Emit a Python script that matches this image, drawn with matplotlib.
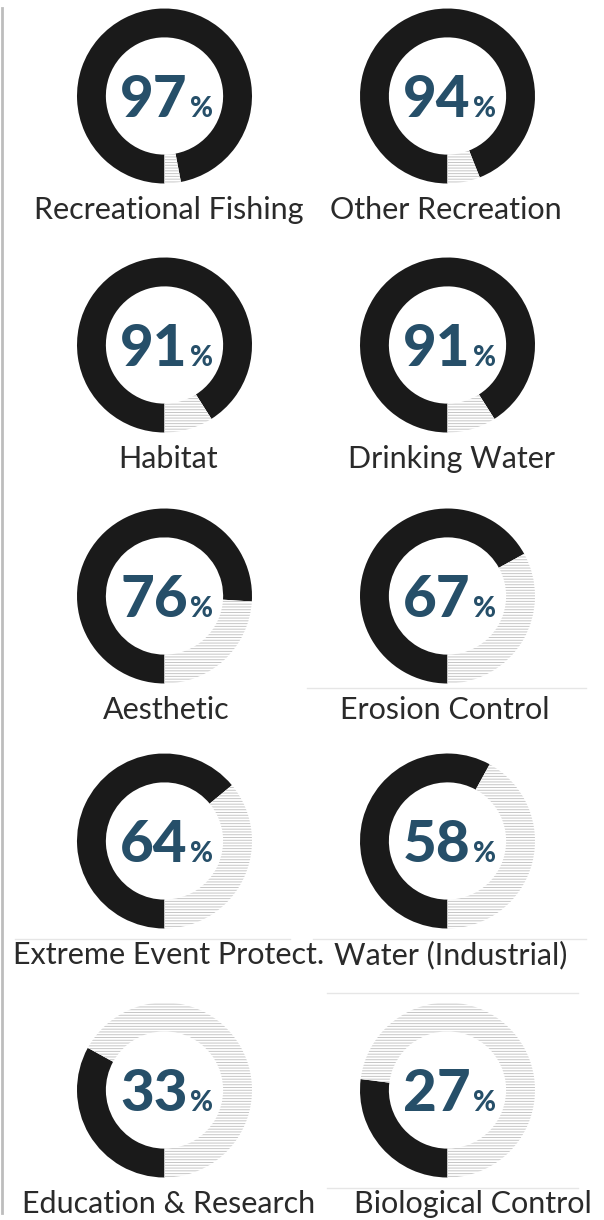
import matplotlib.pyplot as plt
import numpy as np

labels = ['Recreational Fishing', 'Other Recreation', 'Habitat', 'Drinking Water',
          'Aesthetic', 'Erosion Control', 'Extreme Event Protect.', 'Water (Industrial)',
          'Education & Research', 'Biological Control']
values = [97, 94, 91, 91, 76, 67, 64, 58, 33, 27]

plt.rcParams['hatch.linewidth'] = 0.7
plt.rcParams['hatch.color'] = '#c6c6c6'

W, H = 604, 1220
fig = plt.figure(figsize=(W / 100, H / 100), dpi=100)

col_x = [164.5, 447.5]
row_y = [96, 345, 596, 841, 1090]
R = 87.5
lab_dx = [4, -2, 4, 4, 2, -3, 4, 3, 4, 25]

base = fig.add_axes([0, 0, 1, 1])
base.set_xlim(0, W)
base.set_ylim(H, 0)
base.axis('off')

# left rule + faint separators
base.plot([1.5, 1.5], [8, 1213], color='#bdbdbd', lw=2)
for x0, x1, y in [(307, 586, 688), (15, 290, 939), (313, 586, 939), (327, 578, 993), (327, 578, 1188)]:
    base.plot([x0, x1], [y, y], color='#e6e6e6', lw=1)

rend = fig.canvas.get_renderer()
for i, (lab, v) in enumerate(zip(labels, values)):
    cx = col_x[i % 2]
    cy = row_y[i // 2]
    ax = fig.add_axes([(cx - R) / W, 1 - (cy + R) / H, 2 * R / W, 2 * R / H])
    wedges, _ = ax.pie([v, 100 - v], startangle=270, counterclock=False,
                       colors=['#1a1a1a', 'white'],
                       wedgeprops=dict(width=0.33, linewidth=0))
    wedges[1].set_hatch('------')
    wedges[1].set_edgecolor('#c6c6c6')
    wedges[1].set_linewidth(0)
    ax.set_xlim(-1, 1)
    ax.set_ylim(-1, 1)

    # percentage: big digits + small % sign, group centred on the ring
    t1 = fig.text(0, 0, str(v), fontsize=42, fontweight='black', family='Lato',
                  color='#264f69', ha='left', va='baseline', transform=base.transData)
    t2 = fig.text(0, 0, '%', fontsize=20, fontweight='black', family='Lato',
                  color='#264f69', ha='left', va='baseline', transform=base.transData)
    w1 = t1.get_window_extent(rend).width
    w2 = t2.get_window_extent(rend).width
    gap = 2
    left = cx + 2 - (w1 + gap + w2) / 2
    t1.set_position((left, cy + 21))
    t2.set_position((left + w1 + gap, cy + 21))

    base.text(cx + lab_dx[i], cy + 123, lab, fontsize=22, fontweight='normal', family='Lato',
              color='#2a2a2a', ha='center', va='baseline')

fig.savefig('out.png', dpi=100, facecolor='white')
